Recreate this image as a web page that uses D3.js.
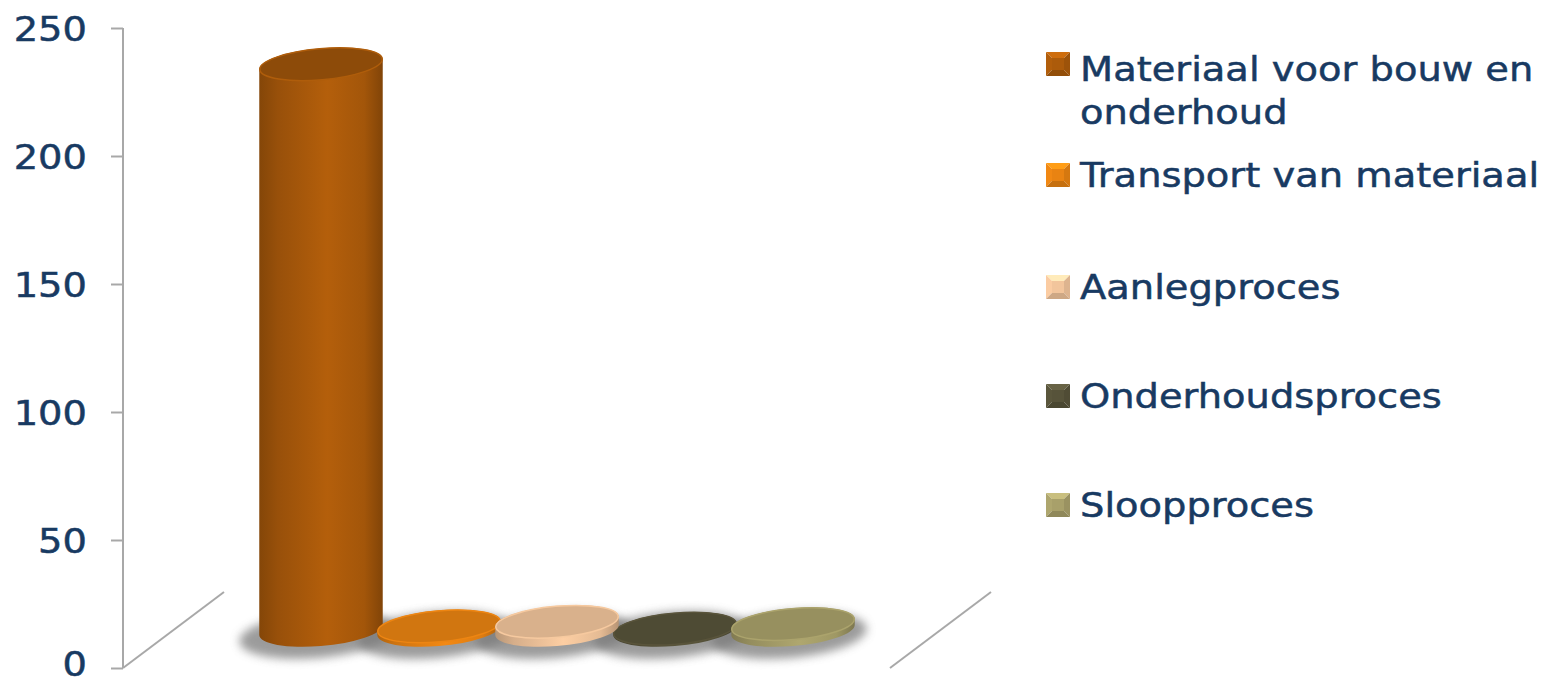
<!DOCTYPE html>
<html>
<head>
<meta charset="utf-8">
<script src="https://cdn.jsdelivr.net/npm/d3@7"></script>
<style>
  html, body { margin: 0; padding: 0; background: #ffffff; }
  svg { display: block; }
</style>
</head>
<body>
<svg id="chart" width="1548" height="684"></svg>
<script>
// Single category, five series drawn as 3D cylinders
const categories = ["Totaal"];
const seriesNames = [
  "Materiaal voor bouw en onderhoud",
  "Transport van materiaal",
  "Aanlegproces",
  "Onderhoudsproces",
  "Sloopproces"
];
const seriesValues = [221, 1.4, 3.2, 0.5, 2.3];
const seriesColors = ["#AC5B0B", "#E98312", "#F2C59C", "#57533A", "#A8A06A"];
const yTicks = [0, 50, 100, 150, 200, 250];
// legend label lines (first entry wraps onto two lines)
const legendLines = [
  ["Materiaal voor bouw en", "onderhoud"],
  ["Transport van materiaal"],
  ["Aanlegproces"],
  ["Onderhoudsproces"],
  ["Sloopproces"]
];

const svg = d3.select("#chart");
const textColor = "#183A62";
const axisColor = "#A8A8A8";
const font = "'DejaVu Sans', Verdana, sans-serif";
const fontSize = 34;
const hScale = 1.13; // horizontal stretch of glyphs

// plot geometry (front plane of the floor) and depth vector
const plotLeft = 123, plotRight = 890;
const depth = { dx: 101, dy: -76 };

const y = d3.scaleLinear().domain([0, 250]).range([668, 28]);
const x0 = d3.scaleBand().domain(categories).range([plotLeft, plotRight])
  .paddingInner(0).paddingOuter(0.15);
const x1 = d3.scaleBand().domain(seriesNames).range([0, x0.bandwidth()]).padding(0);

const defs = svg.append("defs");
const blur = defs.append("filter").attr("id", "shadowBlur")
  .attr("x", "-50%").attr("y", "-50%").attr("width", "200%").attr("height", "200%");
blur.append("feGaussianBlur").attr("stdDeviation", 5);

const styleText = sel => sel
  .attr("fill", textColor)
  .attr("stroke", textColor)
  .attr("stroke-width", 0.5)
  .attr("font-family", font)
  .attr("font-size", fontSize);

// ---- value axis ----
const yAxis = d3.axisLeft(y).tickValues(yTicks).tickSize(12).tickPadding(0).tickFormat(d3.format("d"));
const gAxis = svg.append("g").attr("transform", `translate(${plotLeft},0)`).call(yAxis);
gAxis.select(".domain").attr("stroke", axisColor).attr("stroke-width", 2)
  .attr("d", `M0,${y(250)}V${y(0)}`);
gAxis.selectAll(".tick line").attr("stroke", axisColor).attr("stroke-width", 2);
gAxis.selectAll(".tick text").remove();
// the lowest label sits a little higher so it stays inside the frame
gAxis.selectAll(".tick").append("text")
  .call(styleText)
  .attr("text-anchor", "end")
  .attr("dy", "0.36em")
  .attr("transform", d => `translate(-36,${d === 0 ? -5 : 0}) scale(${hScale},1)`)
  .text(d => d);

// ---- floor edges receding in depth ----
svg.append("g").selectAll("line")
  .data([plotLeft, plotRight])
  .join("line")
  .attr("x1", d => d).attr("y1", y(0))
  .attr("x2", d => d + depth.dx).attr("y2", y(0) + depth.dy)
  .attr("stroke", axisColor).attr("stroke-width", 2);

// ---- cylinders ----
const tilt = -5; // degrees, ellipse rotation
const th = tilt * Math.PI / 180;
const rx = x1.bandwidth() * 0.525;
const ry = 16;
const t0 = Math.atan2(-ry * Math.sin(th), rx * Math.cos(th));
const ex = rx * Math.cos(t0) * Math.cos(th) - ry * Math.sin(t0) * Math.sin(th);
const ey = rx * Math.cos(t0) * Math.sin(th) + ry * Math.sin(t0) * Math.cos(th);
const R = ex > 0 ? { x: ex, y: ey } : { x: -ex, y: -ey };
const L = { x: -R.x, y: -R.y };

const data = seriesNames.map((name, i) => {
  const cx = x0(categories[0]) + x1(name) + x1.bandwidth() / 2 + depth.dx / 2;
  const base = y(0) + depth.dy / 2;
  const top = y(seriesValues[i]) + depth.dy / 2;
  return { name, i, value: seriesValues[i], color: seriesColors[i], cx, base, top };
});

// body gradients
data.forEach(d => {
  const c = d3.color(d.color);
  const g = defs.append("linearGradient").attr("id", `body${d.i}`)
    .attr("x1", 0).attr("x2", 1).attr("y1", 0).attr("y2", 0);
  g.append("stop").attr("offset", 0).attr("stop-color", c.darker(0.75));
  g.append("stop").attr("offset", 0.15).attr("stop-color", c.darker(0.35));
  g.append("stop").attr("offset", 0.55).attr("stop-color", c.brighter(0.12));
  g.append("stop").attr("offset", 0.85).attr("stop-color", c.darker(0.15));
  g.append("stop").attr("offset", 1).attr("stop-color", c.darker(0.8));
});

// shadows under the bases
svg.append("g").selectAll("ellipse")
  .data(data)
  .join("ellipse")
  .attr("cx", d => d.cx - 4)
  .attr("cy", d => d.base + 5)
  .attr("rx", rx + 16)
  .attr("ry", ry + 7)
  .attr("transform", d => `rotate(${tilt},${d.cx - 4},${d.base + 5})`)
  .attr("fill", "#7a7a7a")
  .attr("opacity", 0.75)
  .attr("filter", "url(#shadowBlur)");

// draw the tall one first, then discs from thinnest to thickest
const order = [data[0]].concat(data.slice(1).sort((a, b) => a.value - b.value));
const gCyl = svg.append("g").selectAll("g").data(order).join("g");

gCyl.append("path")
  .attr("d", d => {
    const p = d3.path();
    p.moveTo(d.cx + L.x, d.top + L.y);
    p.lineTo(d.cx + L.x, d.base + L.y);
    return p.toString() +
      `A${rx},${ry} ${tilt} 0 0 ${d.cx + R.x},${d.base + R.y}` +
      `L${d.cx + R.x},${d.top + R.y}` +
      `A${rx},${ry} ${tilt} 0 0 ${d.cx + L.x},${d.top + L.y}Z`;
  })
  .attr("fill", d => `url(#body${d.i})`);

gCyl.append("ellipse")
  .attr("cx", d => d.cx).attr("cy", d => d.top)
  .attr("rx", rx - 0.5).attr("ry", ry - 0.5)
  .attr("transform", d => `rotate(${tilt},${d.cx},${d.top})`)
  .attr("fill", d => d3.color(d.color).darker(d.i === 0 ? 0.55 : 0.3))
  .attr("stroke", d => d3.color(d.color).brighter(0.05))
  .attr("stroke-width", 1.5);

// ---- legend ----
const legendX = 1046, textX = 1080, box = 24, lineH = 43;
const legendCenters = [69, 175, 287, 396, 505];
const gLeg = svg.append("g").selectAll("g")
  .data(seriesNames)
  .join("g")
  .attr("transform", (d, i) => `translate(0,${legendCenters[i]})`);

// bevelled square markers
gLeg.each(function (name, i) {
  const g = d3.select(this);
  const c = d3.color(seriesColors[i]);
  const x = legendX, yTop = (i === 0 ? -5 : 0) - box / 2, s = box, k = 6;
  const tri = (pts, col) => g.append("path").attr("d", "M" + pts.join("L") + "Z").attr("fill", col);
  tri([[x, yTop], [x + s, yTop], [x + s - k, yTop + k], [x + k, yTop + k]], c.brighter(0.5));
  tri([[x, yTop], [x + k, yTop + k], [x + k, yTop + s - k], [x, yTop + s]], c.brighter(0.1));
  tri([[x + s, yTop], [x + s, yTop + s], [x + s - k, yTop + s - k], [x + s - k, yTop + k]], c.darker(0.25));
  tri([[x, yTop + s], [x + k, yTop + s - k], [x + s - k, yTop + s - k], [x + s, yTop + s]], c.darker(0.45));
  g.append("rect").attr("x", x + k).attr("y", yTop + k)
    .attr("width", s - 2 * k).attr("height", s - 2 * k).attr("fill", c);
});

gLeg.each(function (name, i) {
  const g = d3.select(this);
  legendLines[i].forEach((line, j) => {
    g.append("text")
      .call(styleText)
      .attr("transform", `translate(${textX},${j * lineH}) scale(${hScale},1)`)
      .attr("dy", "0.36em")
      .text(line);
  });
});
</script>
</body>
</html>
